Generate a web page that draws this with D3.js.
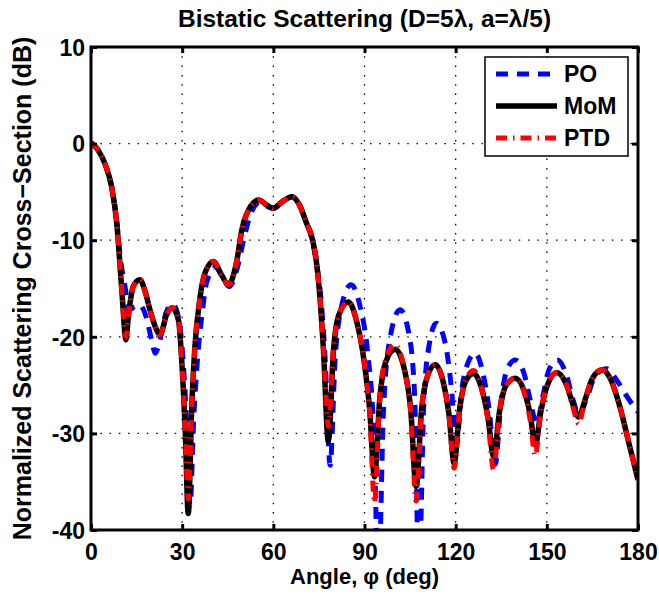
<!DOCTYPE html>
<html>
<head>
<meta charset="utf-8">
<script src="https://cdn.jsdelivr.net/npm/d3@7"></script>
<style>
  body { margin: 0; background: #fff; }
  text { font-family: "Liberation Sans", Arial, Helvetica, sans-serif; font-weight: bold; }
</style>
</head>
<body>
<div id="graph"></div>
<script>
// tick values
var xTicks = [0, 30, 60, 90, 120, 150, 180];
var yTicks = [-40, -30, -20, -10, 0, 10];

// PO (physical optics)
var poAngle = [0, 2.4, 4.6, 6.8, 8.5, 9.8, 11.2, 12.6, 14.3, 16.0, 18.0, 20.0, 21.1, 22.5, 24.6, 26.8, 28.8, 30.2, 31.4, 32.6,
  33.8, 35.0, 36.6, 38.1, 41.0, 43.2, 45.5, 48.2, 50.2, 52.3, 55.5, 58, 60, 63, 66.1, 68.5, 71.0, 72.6, 74.0, 75.8, 77.0,
  78.7, 80.3, 82.0, 85.6, 88.5, 91.0, 93.0, 94.6, 96.2, 98.2, 101.7, 104.5, 106.5, 107.9, 109.5, 111.2, 113.6, 116.6, 118.5, 120.3,
  122.0, 123.7, 126.4, 129.0, 131.0, 133.0, 135.0, 137.0, 139.6, 142.5, 144.5, 146.6, 148.6, 150.6, 153.5, 156.5, 158.6, 160.5, 163.0, 166.0,
  169.8, 173.0, 176.4, 180];
var poDb = [0.1, -0.7, -2.1, -4.5, -8.2, -12.2, -14.8, -17.2, -16.9, -16.7, -17.8, -20.4, -21.7, -20.6, -17.6, -16.6, -18.0, -22.0, -28.5, -37.5,
  -28.5, -22.5, -17.5, -14.3, -12.8, -13.8, -14.8, -12.8, -10.0, -7.5, -6.1, -6.5, -6.7, -6.0, -5.5, -6.3, -8.3, -9.7, -12.0, -16.5, -22.0,
  -33.3, -22.5, -17.5, -14.6, -16.8, -21.5, -29.5, -45, -28.0, -20.5, -17.2, -19.5, -26.0, -45, -27.0, -21.0, -18.6, -20.7, -25.0, -31.0,
  -25.5, -23.0, -21.7, -23.8, -27.5, -33.2, -26.5, -23.3, -22.4, -23.8, -26.5, -29.0, -26.3, -23.5, -22.4, -24.0, -26.5, -28.0, -26.5, -24.0,
  -23.3, -24.5, -26.2, -27.8];

// MoM (method of moments)
var momAngle = [0, 2.4, 4.6, 6.8, 8.5, 9.5, 10.3, 11.5, 12.3, 13.9, 16.1, 17.8, 19.4, 21.6, 22.7, 24.9, 26.8, 28.8, 29.9, 31.0,
  32.0, 33.2, 34.2, 35.9, 37.5, 40.3, 42.8, 45.2, 48.0, 49.6, 51.8, 55.2, 58, 60.0, 63, 66.1, 68.5, 71.0, 72.6, 74.0, 75.4,
  76.5, 78.1, 79.8, 81.5, 84.7, 87.5, 90.0, 91.7, 93.3, 95.0, 97.0, 100.1, 103.0, 105.2, 107.0, 108.8, 110.8, 113.3, 116.0, 117.8,
  119.5, 121.3, 123.3, 125.9, 128.5, 130.6, 132.5, 134.4, 136.6, 139.6, 142.5, 144.5, 146.2, 148.0, 150.2, 153.3, 156.5, 158.6, 160.5, 162.5,
  165.0, 168.2, 171.0, 174.0, 177.0, 180];
var momDb = [0.1, -0.7, -2.1, -4.5, -8.3, -12.4, -15.9, -20.3, -17.9, -14.8, -14.1, -15.3, -17.2, -19.3, -19.8, -17.7, -17.0, -18.3, -22.7, -29.6,
  -38.3, -26.9, -21.0, -15.9, -13.4, -12.2, -13.5, -14.6, -12.1, -9.0, -6.9, -5.85, -6.4, -6.7, -6.0, -5.5, -6.3, -8.3, -9.6, -11.8, -16.2,
  -21.4, -30.8, -21.4, -17.8, -16.4, -18.5, -22.8, -27.5, -34.5, -26.5, -22.6, -21.3, -23.2, -27.5, -35.5, -27.5, -24.0, -22.9, -24.8, -28.0,
  -33.1, -27.5, -24.6, -23.8, -25.3, -28.3, -32.4, -27.8, -25.0, -24.3, -25.6, -28.0, -31.2, -27.8, -25.0, -23.7, -25.0, -27.0, -28.3, -26.6,
  -24.3, -23.4, -24.4, -27.2, -31.0, -34.8];

// PTD (physical theory of diffraction)
var ptdAngle = momAngle;
var ptdDb = [0.1, -0.7, -2.1, -4.5, -8.3, -12.4, -15.9, -20.0, -17.9, -14.8, -14.1, -15.3, -17.2, -19.3, -19.8, -17.7, -17.0, -18.3, -22.7, -29.3,
  -36.8, -26.9, -21.0, -15.9, -13.4, -12.2, -13.5, -14.6, -12.1, -9.0, -6.9, -5.85, -6.4, -6.7, -6.0, -5.5, -6.3, -8.3, -9.6, -11.8, -16.2,
  -21.2, -29.3, -21.2, -17.8, -16.4, -18.5, -22.8, -27.8, -37.2, -26.5, -22.3, -20.8, -23.2, -27.8, -37.0, -27.5, -24.0, -22.9, -24.8, -28.2,
  -33.6, -27.5, -24.5, -23.5, -25.3, -28.6, -33.8, -27.8, -25.0, -24.3, -25.7, -28.6, -32.3, -27.8, -25.0, -23.7, -25.0, -27.3, -29.0, -26.6,
  -24.3, -23.4, -24.4, -27.2, -31.0, -34.8];

var W = 659, H = 597;
var mLeft = 91, mRight = 638, mTop = 47, mBottom = 530;

var svg = d3.select("#graph").append("svg")
  .attr("width", W)
  .attr("height", H);

svg.append("rect").attr("width", W).attr("height", H).attr("fill", "#fff");

var x = d3.scaleLinear().domain([0, 180]).range([mLeft, mRight]);
var y = d3.scaleLinear().domain([-40, 10]).range([mBottom, mTop]);

// dotted grid
svg.selectAll(".gx")
  .data(xTicks.slice(1, -1))
  .enter()
  .append("line")
  .attr("x1", function(d) { return x(d); })
  .attr("x2", function(d) { return x(d); })
  .attr("y1", mTop)
  .attr("y2", mBottom)
  .style("stroke", "#000")
  .style("stroke-width", 1.3)
  .style("stroke-dasharray", "1.5,7.8");

svg.selectAll(".gy")
  .data(yTicks.slice(1, -1))
  .enter()
  .append("line")
  .attr("x1", mLeft)
  .attr("x2", mRight)
  .attr("y1", function(d) { return y(d); })
  .attr("y2", function(d) { return y(d); })
  .style("stroke", "#000")
  .style("stroke-width", 1.3)
  .style("stroke-dasharray", "1.5,7.8");

svg.append("clipPath").attr("id", "clip")
  .append("rect")
  .attr("x", mLeft).attr("y", mTop)
  .attr("width", mRight - mLeft).attr("height", mBottom - mTop);

var line = d3.line()
  .x(function(d) { return x(d[0]); })
  .y(function(d) { return y(d[1]); })
  .curve(d3.curveMonotoneX);

var series = [
  {name: "PO", a: poAngle, v: poDb, color: "#0000ff", width: 5, dash: "12,9"},
  {name: "MoM", a: momAngle, v: momDb, color: "#000000", width: 5.5, dash: null},
  {name: "PTD", a: ptdAngle, v: ptdDb, color: "#ff0000", width: 5, dash: "11,6,1.5,6"}
];

var plot = svg.append("g").attr("clip-path", "url(#clip)");
series.forEach(function(s) {
  plot.append("path")
    .datum(d3.zip(s.a, s.v))
    .attr("d", line)
    .attr("fill", "none")
    .style("stroke", s.color)
    .style("stroke-width", s.width)
    .style("stroke-dasharray", s.dash);
});

// axes: labels + inward ticks on all four sides
var fmt = function(d) { return String(d); };

var gB = svg.append("g").attr("transform", "translate(0," + mBottom + ")")
  .call(d3.axisBottom(x).tickValues(xTicks).tickFormat(fmt).tickSize(-6).tickPadding(14));
var gT = svg.append("g").attr("transform", "translate(0," + mTop + ")")
  .call(d3.axisTop(x).tickValues(xTicks).tickFormat("").tickSize(-6));
var gL = svg.append("g").attr("transform", "translate(" + mLeft + ",0)")
  .call(d3.axisLeft(y).tickValues(yTicks).tickFormat(fmt).tickSize(-6).tickPadding(6));
var gR = svg.append("g").attr("transform", "translate(" + mRight + ",0)")
  .call(d3.axisRight(y).tickValues(yTicks).tickFormat("").tickSize(-6));

[gB, gT, gL, gR].forEach(function(g) {
  g.select(".domain").remove();
  g.selectAll(".tick line").style("stroke", "#000").style("stroke-width", 3);
  g.selectAll("text")
    .style("font-size", "23px")
    .style("font-weight", "bold")
    .style("font-family", '"Liberation Sans", Arial, sans-serif')
    .style("fill", "#000");
});
gL.selectAll("text").attr("dy", "0.36em");

svg.append("rect")
  .attr("x", mLeft).attr("y", mTop)
  .attr("width", mRight - mLeft).attr("height", mBottom - mTop)
  .attr("fill", "none")
  .style("stroke", "#000")
  .style("stroke-width", 3);

// titles
svg.append("text")
  .attr("x", (mLeft + mRight) / 2).attr("y", 27)
  .attr("text-anchor", "middle")
  .style("font-size", "24.5px")
  .text("Bistatic Scattering (D=5\u03bb, a=\u03bb/5)");

svg.append("text")
  .attr("x", (mLeft + mRight) / 2).attr("y", 584)
  .attr("text-anchor", "middle")
  .style("font-size", "22px")
  .text("Angle, \u03c6 (deg)");

svg.append("text")
  .attr("transform", "translate(31," + ((mTop + mBottom) / 2) + ") rotate(-90)")
  .attr("text-anchor", "middle")
  .style("font-size", "25px")
  .text("Normalized Scattering Cross\u2212Section (dB)");

// legend
var lg = svg.append("g");
lg.append("rect")
  .attr("x", 485).attr("y", 57)
  .attr("width", 143).attr("height", 99)
  .attr("fill", "#fff")
  .style("stroke", "#000")
  .style("stroke-width", 1.5);

series.forEach(function(s, i) {
  var ly = 74 + i * 32;
  lg.append("line")
    .attr("x1", 496).attr("x2", 557)
    .attr("y1", ly).attr("y2", ly)
    .style("stroke", s.color)
    .style("stroke-width", s.width)
    .style("stroke-dasharray", s.dash);
  lg.append("text")
    .attr("x", 564).attr("y", ly + 8)
    .style("font-size", "23px")
    .text(s.name);
});
</script>
</body>
</html>
